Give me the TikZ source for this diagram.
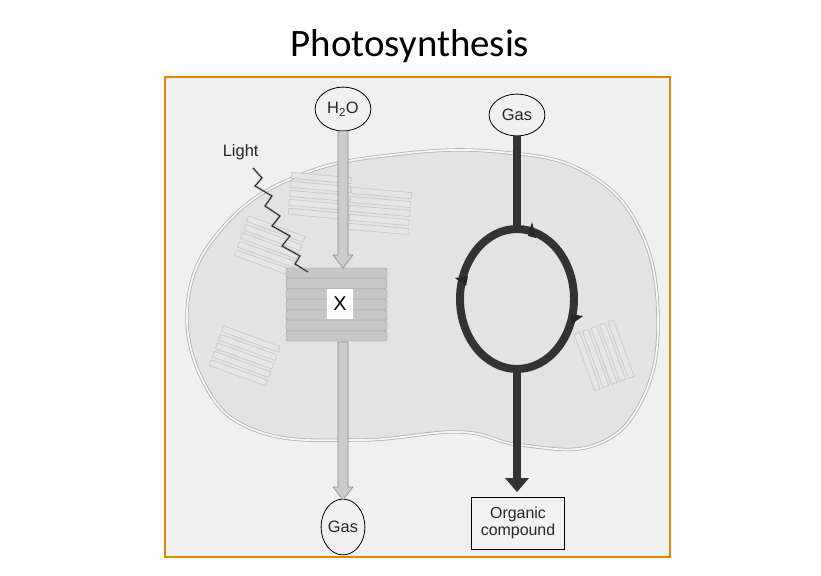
\documentclass[tikz,border=0pt]{standalone}
\usepackage{fontspec}
\setmainfont{Liberation Sans}
\newfontfamily\titlefont{Carlito}
\usetikzlibrary{arrows.meta,shapes.geometric}
\begin{document}
\begin{tikzpicture}[x=1bp,y=-1bp,
  lbl/.style={font=\fontsize{16.5}{17}\selectfont, text=black!85},
  bub/.style={ellipse, draw=black, thick, fill=white!94!black, inner sep=0pt, lbl},
  thyl/.style={draw=black!20, fill=black!10, line width=0.8pt},
  grayarrow/.style={draw=black!45, fill=black!20, line width=0.6pt},
  darkline/.style={draw=black!80, line width=8pt}]
\useasboundingbox (0,0) rectangle (821,576);
\node[font=\titlefont\fontsize{39}{42}\selectfont] (title) at (410,46) {Photosynthesis};
\draw[draw=orange!85!yellow!90!black, line width=2pt, fill=black!6] (165,77) rectangle (670,557);
% chloroplast
\draw[fill=black!11, draw=black!30, double=black!4, double distance=1.8pt, line width=0.8pt]
  plot[smooth cycle, tension=0.7] coordinates {(188,300) (225,225) (300,175) (400,154) (500,152) (585,172) (640,230) (658,320) (642,400) (595,445) (520,445) (460,432) (360,440) (260,432) (205,385)};
% faint grana
\foreach \cx/\cy/\ang in {320/195/-5, 380/210/-5, 270/245/-20, 245/355/-20, 605/355/-70}{
  \begin{scope}[shift={(\cx,\cy)}, rotate=\ang]
    \foreach \k in {0,...,4}{ \draw[thyl] (-30,-20+9*\k) rectangle (30,-14+9*\k); }
  \end{scope}}
% nodes
\node[bub, minimum width=56, minimum height=44] (h2o) at (343,109) {H\textsubscript{2}O};
\node[bub, minimum width=44, minimum height=56] (gasb) at (343,527) {Gas};
\node[bub, minimum width=56, minimum height=42] (gast) at (517,115) {Gas};
\node[draw=black, thick, fill=white!95!black, minimum width=93, minimum height=52, inner sep=1pt, align=center, lbl, font=\fontsize{16}{17}\selectfont] (org) at (518,523) {Organic\\compound};
% gray arrows
\draw[grayarrow] (338,131) -- (338,255) -- (333,255) -- (343,268) -- (353,255) -- (348,255) -- (348,131) -- cycle;
\draw[grayarrow] (338,342) -- (338,487) -- (333,487) -- (343,500) -- (353,487) -- (348,487) -- (348,342) -- cycle;
% stack
\foreach \k in {0,...,6}{
  \draw[draw=black!40, fill=black!22, rounded corners=2pt] (286,268+10.5*\k) rectangle (387,278+10.5*\k);}
\node[fill=white, minimum width=26, minimum height=30, inner sep=0pt, font=\fontsize{20}{21}\selectfont] (x) at (340,304) {X};
% light
\node[lbl, anchor=east] (light) at (262,152) {Light};
\draw[black!40, line width=2pt] (253,168) -- (262,178) -- (255,186) -- (272,196) -- (265,206) -- (280,216) -- (272,226) -- (290,236) -- (282,246) -- (300,256) -- (295,264) -- (308,272);
\draw[black, line width=0.5pt] (253,168) -- (262,178) -- (255,186) -- (272,196) -- (265,206) -- (280,216) -- (272,226) -- (290,236) -- (282,246) -- (300,256) -- (295,264) -- (308,272);
% dark cycle
\coordinate (ctop) at (517,229);
\coordinate (cbot) at (517,369);
\draw[darkline] (517,299) ellipse (57 and 70);
\draw[darkline] (gast.south) -- (ctop);
\draw[darkline] (cbot) -- (517,480);
\fill[black!80] (505,478) -- (529,478) -- (517,492) -- cycle;
\fill[black!85] (532,222) -- (536,238) -- (528,236) -- cycle;
\fill[black!85] (455,278) -- (468,276) -- (466,286) -- cycle;
\fill[black!85] (570,314) -- (583,316) -- (572,324) -- cycle;
\end{tikzpicture}
\end{document}
